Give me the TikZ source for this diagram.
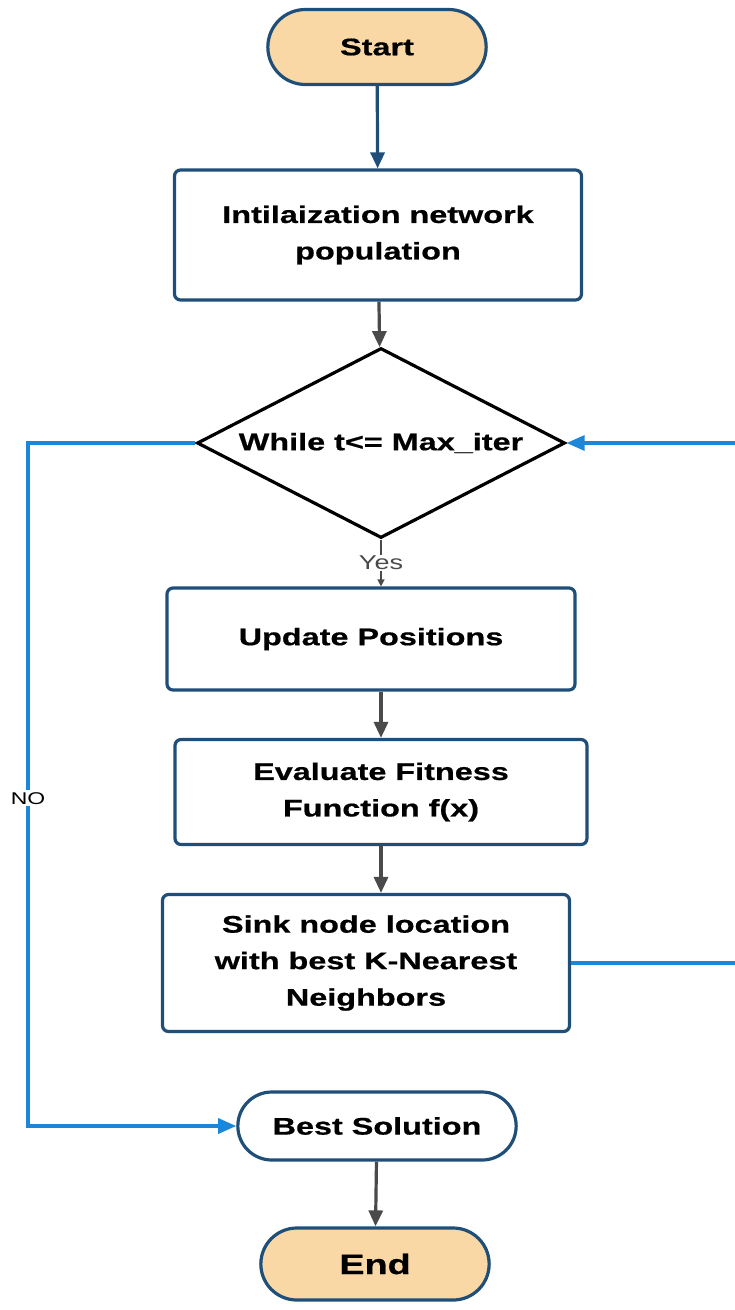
\documentclass[tikz,border=0pt]{standalone}
\usepackage{fontspec}
\setmainfont{Liberation Sans}
\newfontfamily\flowfont[FakeStretch=1.35,BoldFeatures={FakeBold=0.6}]{Liberation Sans}
\usepackage{tikz}
\usetikzlibrary{arrows.meta,positioning,shapes.geometric,shapes.misc}
\definecolor{navy}{HTML}{1F4E79}
\definecolor{flowblue}{HTML}{1C86D8}
\definecolor{wiregray}{HTML}{4A4A4A}
\definecolor{peach}{HTML}{F9D8A5}
\tikzset{
  box/.style      = {draw=navy, line width=3.2pt, fill=white, rounded corners=6pt,
                     align=center, font=\flowfont\fontsize{24}{36.5}\selectfont\bfseries},
  term/.style     = {rounded rectangle, draw=navy, line width=3.2pt, fill=peach,
                     font=\flowfont\fontsize{24}{36}\selectfont\bfseries},
  decision/.style = {diamond, draw=black, line width=3.2pt, fill=white, inner sep=0pt,
                     aspect=1.94, font=\flowfont\fontsize{24}{36}\selectfont\bfseries},
  wire/.style     = {line width=3.2pt, wiregray, -{Triangle[length=16pt,width=14pt]}},
  loopwire/.style = {line width=3.2pt, flowblue, -{Triangle[length=18pt,width=15pt]}},
}
\begin{document}
\begin{tikzpicture}[x=1pt,y=-1pt]
  \useasboundingbox (0,0) rectangle (735,1310);
  % terminals and steps
  \node[term, minimum width=225, minimum height=75] (start) at (377,47) {Start};
  \node[box, minimum width=407, minimum height=130] (init) at (378,235)
      {Intilaization network\\population};
  \node[decision, minimum width=368, minimum height=190] (loop) at (381,443)
      {While t<= Max\_iter};
  \node[box, minimum width=408, minimum height=102] (update) at (371,639)
      {Update Positions};
  \node[box, minimum width=412, minimum height=105] (fitness) at (381,792)
      {Evaluate Fitness\\Function f(x)};
  \node[box, minimum width=407, minimum height=137] (sink) at (366,963)
      {Sink node location\\with best K-Nearest\\Neighbors};
  \node[term, fill=white, minimum width=285, minimum height=68] (best) at (377,1126)
      {Best Solution};
  \node[term, minimum width=235, minimum height=72,
        font=\flowfont\fontsize{28}{36}\selectfont\bfseries] (end) at (375,1264) {End};
  % main flow
  \draw[wire, navy] (start) -- (init);
  \draw[wire] (init) -- (loop);
  \draw[wiregray, line width=1.4pt, -{Triangle[length=7pt,width=7pt]}] (loop.south) --
      node[fill=white, inner sep=1pt, font=\flowfont\fontsize{20}{20}\selectfont] (yes) {Yes}
      (update.north -| loop.south);
  \draw[wire] (update.south -| fitness.north) -- (fitness.north);
  \draw[wire] (fitness.south) -- (fitness.south |- sink.north);
  \draw[wire] (best) -- (end);
  % loop back and exit
  \coordinate (right) at (745,0);
  \coordinate (left) at (28,0);
  \draw[loopwire] (sink.east) -- (sink.east -| right) -- (loop.east -| right) -- (loop.east);
  \draw[loopwire] (loop.west) -- (loop.west -| left) --
      node[pos=0.52, fill=white, inner sep=2pt, text=black,
           font=\flowfont\fontsize{17}{17}\selectfont] (no) {NO}
      (best.west -| left) -- (best.west);
\end{tikzpicture}
\end{document}
